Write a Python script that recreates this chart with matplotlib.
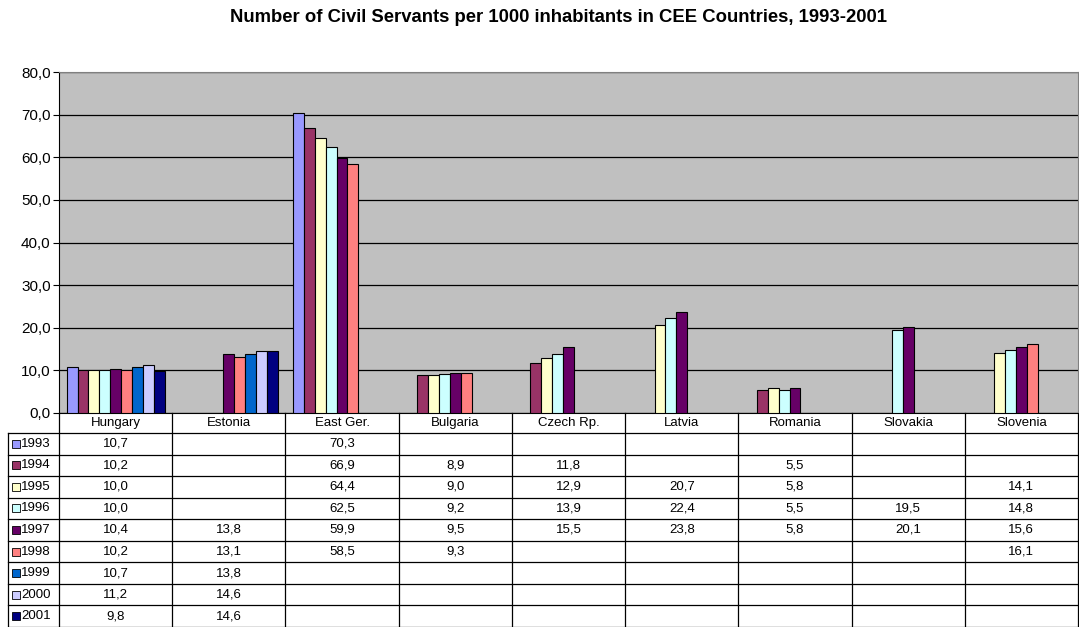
import numpy as np
import matplotlib
matplotlib.use("Agg")
import matplotlib.pyplot as plt
from matplotlib.transforms import blended_transform_factory
from matplotlib.patches import Rectangle

plt.rcParams['font.family'] = ['Liberation Sans', 'DejaVu Sans']

countries = ["Hungary", "Estonia", "East Ger.", "Bulgaria", "Czech Rp.",
             "Latvia", "Romania", "Slovakia", "Slovenia"]
years = ["1993", "1994", "1995", "1996", "1997", "1998", "1999", "2000", "2001"]
n = np.nan
v1993 = [10.7, n, 70.3, n, n, n, n, n, n]
v1994 = [10.2, n, 66.9, 8.9, 11.8, n, 5.5, n, n]
v1995 = [10.0, n, 64.4, 9.0, 12.9, 20.7, 5.8, n, 14.1]
v1996 = [10.0, n, 62.5, 9.2, 13.9, 22.4, 5.5, 19.5, 14.8]
v1997 = [10.4, 13.8, 59.9, 9.5, 15.5, 23.8, 5.8, 20.1, 15.6]
v1998 = [10.2, 13.1, 58.5, 9.3, n, n, n, n, 16.1]
v1999 = [10.7, 13.8, n, n, n, n, n, n, n]
v2000 = [11.2, 14.6, n, n, n, n, n, n, n]
v2001 = [9.8, 14.6, n, n, n, n, n, n, n]
series = [v1993, v1994, v1995, v1996, v1997, v1998, v1999, v2000, v2001]
colors = ["#9999FF", "#993366", "#FFFFCC", "#CCFFFF", "#660066",
          "#FF8080", "#0066CC", "#CCCCFF", "#000080"]

W, H = 1079, 627
fig = plt.figure(figsize=(W / 100, H / 100), dpi=100)
ax_l, ax_r, ax_t, ax_b = 59, 1078, 72, 413
ax = fig.add_axes([ax_l / W, 1 - ax_b / H, (ax_r - ax_l) / W, (ax_b - ax_t) / H])
ax.set_facecolor("#C0C0C0")

x = np.arange(len(countries))
bw = 0.096
for j, (vals, c) in enumerate(zip(series, colors)):
    ax.bar(x + (j - 4) * bw, vals, bw, color=c, edgecolor="black", linewidth=0.8, zorder=3)

ax.set_xlim(-0.5, len(countries) - 0.5)
ax.set_ylim(0, 80)
ax.set_yticks(np.arange(0, 81, 10))
ax.set_yticklabels([f"{t:.1f}".replace(".", ",") for t in np.arange(0, 81, 10)], fontsize=11)
ax.yaxis.grid(True, color="black", linewidth=0.9, zorder=1)
ax.set_xticks([])
ax.tick_params(axis="y", length=4, width=0.8, pad=2)
for s in ["top", "right"]:
    ax.spines[s].set_color("#808080")
ax.spines["left"].set_color("black")
ax.spines["bottom"].set_color("black")

fig.text(559 / W, 1 - 18 / H,
         "Number of Civil Servants per 1000 inhabitants in CEE Countries, 1993-2001",
         ha="center", va="center", fontsize=13.3, fontweight="bold")

# data table below the axes
tr = blended_transform_factory(ax.transData, ax.transAxes)
ax_h = ax_b - ax_t
def yfrac(py):
    return -(py - ax_b) / ax_h
def xfrac(px):
    return (px - ax_l) / (ax_r - ax_l)

head_bot = 433
row_h = (H - head_bot) / len(years)
line_kw = dict(color="black", linewidth=0.9, clip_on=False)

# horizontal lines
for r in range(len(years) + 1):
    yy = yfrac(head_bot + r * row_h)
    ax.plot([xfrac(8), xfrac(ax_r)], [yy, yy], transform=ax.transAxes, **line_kw)
# vertical lines between countries
for k in range(len(countries) + 1):
    ax.plot([k - 0.5, k - 0.5], [0, yfrac(H)], transform=tr, **line_kw)
ax.plot([xfrac(8), xfrac(8)], [yfrac(head_bot), yfrac(H)], transform=ax.transAxes, **line_kw)

for i, name in enumerate(countries):
    ax.text(i, yfrac((ax_b + head_bot) / 2), name, transform=tr, ha="center",
            va="center", fontsize=9.5)

for r, (yr, vals, c) in enumerate(zip(years, series, colors)):
    yc = yfrac(head_bot + (r + 0.5) * row_h)
    ax.add_patch(Rectangle((xfrac(12), yc - 4 / ax_h), 8 / (ax_r - ax_l), 8 / ax_h,
                           transform=ax.transAxes, facecolor=c, edgecolor="black",
                           linewidth=0.6, clip_on=False))
    ax.text(xfrac(21), yc, yr, transform=ax.transAxes, ha="left", va="center", fontsize=9.5)
    for i, v in enumerate(vals):
        if not np.isnan(v):
            ax.text(i, yc, f"{v:.1f}".replace(".", ","), transform=tr, ha="center",
                    va="center", fontsize=9.5)

fig.savefig("out.png", dpi=100)
